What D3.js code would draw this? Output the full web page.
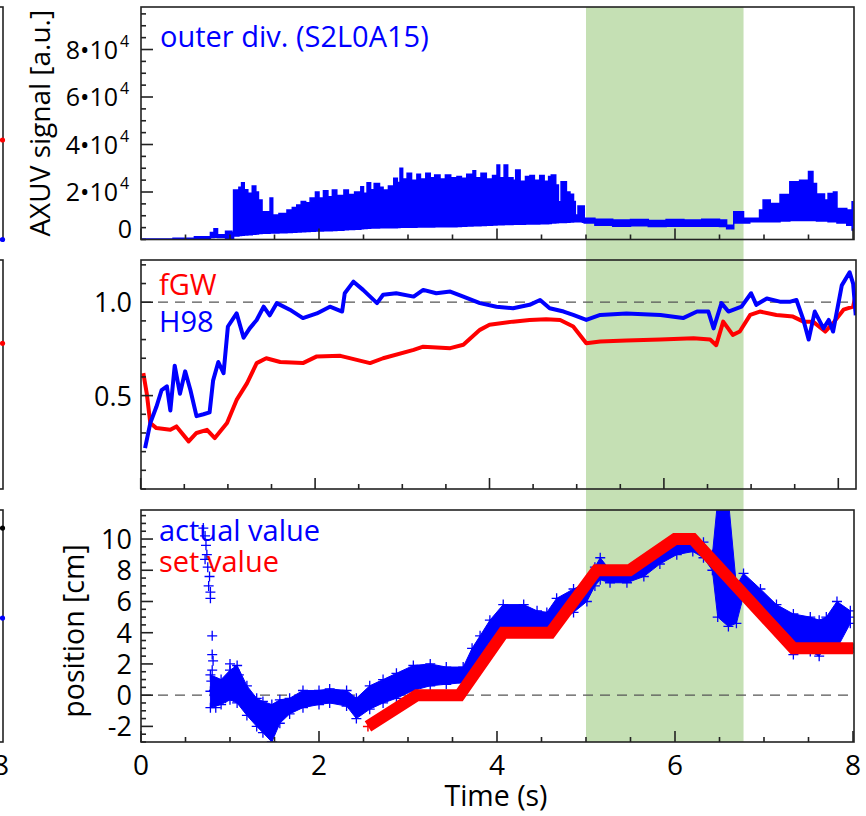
<!DOCTYPE html>
<html><head><meta charset="utf-8">
<script src="https://cdn.jsdelivr.net/npm/d3@7"></script>
<style>body{margin:0;background:#fff}svg{display:block}text{font-family:"Open Sans",sans-serif}</style>
</head><body>
<svg id="c" width="866" height="816"></svg>
<script>
// ---------- DATA ----------
// Panel 1: AXUV outer divertor signal (units of 1e4 a.u.): time, upper envelope, lower envelope
const axuvT  = [0.0,0.36,0.6,0.78,0.82,0.86,0.95,1.02,1.04,1.1,1.13,1.16,1.2,1.25,1.29,1.32,1.36,1.45,1.48,1.55,1.64,1.7,1.75,1.8,1.85,1.9,1.96,2.0,2.05,2.1,2.15,2.2,2.28,2.33,2.4,2.47,2.5,2.54,2.58,2.62,2.68,2.72,2.78,2.84,2.88,2.91,2.94,2.99,3.04,3.1,3.14,3.2,3.25,3.3,3.36,3.42,3.48,3.55,3.6,3.66,3.73,3.76,3.82,3.88,3.95,4.0,4.03,4.08,4.12,4.18,4.21,4.26,4.32,4.37,4.42,4.48,4.53,4.58,4.61,4.66,4.69,4.72,4.78,4.82,4.86,4.88,4.91,4.96,4.98,5.1,5.3,5.5,5.7,5.9,6.1,6.3,6.5,6.58,6.66,6.77,6.84,6.95,6.99,7.07,7.18,7.29,7.4,7.5,7.55,7.59,7.68,7.72,7.78,7.82,7.93,7.99,8.0];
const axuvHi = [0.02,0.05,0.12,0.3,0.45,0.2,0.35,0.3,2.08,2.2,2.39,2.1,1.95,2.25,2.0,1.66,1.17,1.75,1.03,1.1,1.24,1.35,1.45,1.6,1.55,1.75,2.0,1.75,2.05,1.8,2.08,1.85,2.08,1.9,2.0,2.22,1.95,2.39,2.1,2.36,2.2,2.08,2.25,2.58,2.4,3.0,2.55,2.79,2.5,2.75,2.55,2.79,2.6,2.72,2.55,2.72,2.6,2.65,2.58,2.75,2.9,2.6,2.79,2.55,2.7,3.14,2.6,3.14,2.6,2.5,2.93,2.45,2.65,2.7,2.5,2.7,2.45,2.65,2.72,2.3,1.59,2.43,2.0,1.91,1.6,1.03,1.41,1.41,0.9,0.85,0.82,0.84,0.8,0.84,0.82,0.85,0.82,0.6,1.17,0.9,0.9,1.24,1.66,1.52,1.9,2.43,2.5,2.86,2.36,1.92,1.66,1.94,2.0,1.31,1.24,1.59,1.59];
const axuvLo = [0.0,0.0,0.02,0.08,0.1,0.08,0.05,0.05,0.15,0.17,0.18,0.19,0.2,0.22,0.23,0.25,0.26,0.27,0.27,0.28,0.3,0.31,0.32,0.33,0.34,0.35,0.36,0.36,0.37,0.37,0.38,0.39,0.41,0.42,0.43,0.45,0.46,0.47,0.48,0.48,0.49,0.5,0.5,0.5,0.51,0.52,0.52,0.52,0.52,0.53,0.53,0.53,0.53,0.54,0.54,0.54,0.54,0.55,0.56,0.57,0.58,0.58,0.59,0.6,0.61,0.62,0.62,0.63,0.63,0.64,0.64,0.64,0.65,0.65,0.65,0.66,0.66,0.67,0.7,0.71,0.72,0.72,0.73,0.74,0.75,0.75,0.75,0.73,0.7,0.6,0.56,0.58,0.55,0.56,0.56,0.56,0.55,0.45,0.7,0.7,0.75,0.75,0.75,0.75,0.78,0.8,0.8,0.8,0.8,0.78,0.78,0.75,0.75,0.7,0.6,0.4,0.35];
const axuvTicks = [2,4,6,8];

// Panel 2: H98 confinement factor and Greenwald fraction
const h98T = [0.05,0.11,0.18,0.24,0.30,0.34,0.39,0.45,0.51,0.57,0.64,0.72,0.79,0.83,0.89,0.95,1.0,1.1,1.18,1.25,1.33,1.41,1.48,1.56,1.71,1.86,2.02,2.17,2.31,2.34,2.44,2.55,2.71,2.78,2.93,3.13,3.24,3.39,3.55,3.7,3.89,4.08,4.27,4.46,4.58,4.69,4.85,4.96,5.11,5.27,5.57,5.96,6.22,6.38,6.51,6.57,6.66,6.74,6.89,7.0,7.06,7.18,7.33,7.45,7.52,7.6,7.66,7.73,7.83,7.89,7.94,8.04,8.13,8.17,8.2];
const h98V = [0.219,0.353,0.44,0.53,0.55,0.42,0.66,0.51,0.63,0.53,0.39,0.40,0.41,0.58,0.68,0.62,0.87,0.94,0.81,0.86,0.905,0.976,0.93,0.995,0.96,0.915,0.94,0.976,0.95,1.048,1.11,1.066,0.995,1.04,1.048,1.03,1.066,1.048,1.057,1.03,0.995,0.976,0.968,0.986,1.012,0.968,0.95,0.932,0.905,0.932,0.94,0.932,0.915,0.95,0.95,0.86,0.995,0.95,0.976,1.048,0.986,1.02,1.003,1.003,1.012,0.905,0.8,0.95,0.86,0.905,0.843,1.09,1.16,1.10,0.93];
const fgwT = [0.03,0.07,0.11,0.18,0.34,0.41,0.55,0.64,0.76,0.85,0.99,1.1,1.22,1.33,1.44,1.6,1.86,2.02,2.29,2.63,2.78,3.13,3.24,3.55,3.7,3.89,4.0,4.27,4.46,4.65,4.81,4.96,5.11,5.27,5.57,5.96,6.34,6.53,6.6,6.68,6.79,6.87,6.99,7.1,7.29,7.48,7.6,7.71,7.85,7.94,8.06,8.17,8.2];
const fgwV = [0.62,0.51,0.353,0.326,0.317,0.335,0.255,0.30,0.317,0.273,0.353,0.477,0.567,0.674,0.70,0.68,0.674,0.71,0.713,0.674,0.70,0.745,0.762,0.754,0.772,0.852,0.879,0.896,0.905,0.909,0.905,0.87,0.78,0.79,0.795,0.80,0.807,0.80,0.77,0.896,0.825,0.843,0.932,0.95,0.932,0.923,0.896,0.896,0.843,0.888,0.96,0.976,1.04];
const p2Ticks = [0.5,1.0];

// Panel 3: strike-point position [cm]
const setT = [2.55,3.1,3.58,4.07,4.6,5.12,5.49,6.0,6.2,7.33,8.0];
const setV = [-2,0,0,4,4,8,8,10,10,3,3];
const actT  = [0.78,0.9,1.0,1.08,1.19,1.3,1.37,1.47,1.56,1.67,1.82,2.0,2.12,2.31,2.42,2.57,2.72,2.87,3.06,3.25,3.43,3.62,3.72,3.81,3.92,4.07,4.3,4.45,4.56,4.67,4.86,5.01,5.1,5.16,5.27,5.46,5.65,5.83,6.02,6.2,6.32,6.42,6.48,6.6,6.69,6.77,6.96,7.14,7.33,7.52,7.62,7.7,7.82,7.97];
const actLo = [-0.8,-0.6,-0.3,-0.5,-1.3,-2.0,-2.4,-3.0,-1.8,-1.2,-0.8,-0.6,-0.5,-0.7,-1.5,-0.9,-0.5,-0.2,0.3,0.6,0.7,0.8,1.6,2.5,3.4,4.2,4.3,4.0,4.1,4.6,5.3,6.0,7.0,7.4,7.2,7.2,7.6,8.4,9.0,9.2,8.8,8.0,5.0,4.4,4.6,6.4,5.6,4.2,2.6,2.8,2.5,3.2,3.0,4.6];
const actHi = [1.3,1.0,1.6,1.9,0.6,-0.2,-0.4,-0.6,-0.3,-0.2,0.3,0.3,0.4,0.3,-0.2,0.6,1.0,1.4,1.9,2.0,1.8,1.8,3.0,3.8,4.8,5.8,5.8,5.4,5.3,6.2,6.8,7.2,8.2,8.8,8.0,8.0,8.6,9.3,9.8,10.0,9.8,9.0,12.5,12.5,7.0,7.8,6.8,5.8,5.2,5.0,4.8,5.0,6.0,5.4];
const scatT = [0.70,0.72,0.73,0.74,0.72,0.75,0.77,0.76,0.78,0.78,0.80,0.80,0.81,0.80,0.82,0.84,0.79,1.0,1.05,1.1,0.95];
const scatV = [10.7,10.2,9.6,9.0,8.7,8.2,7.6,7.0,6.6,6.2,3.8,2.6,2.2,1.6,0.3,-0.8,0.9,2.0,1.6,1.3,-0.2];
const p3Ticks = [-2,0,2,4,6,8,10];

const timeTicks = [0,2,4,6,8];
const heating = [5.0, 6.77]; // shaded interval [s]

// Fragment of the neighbouring figure on the left (value at t = 8)
const nb1 = [{v:4.19,c:"#ff0000"},{v:0,c:"#0000ff"}];
const nb2 = [{v:0.78,c:"#ff0000"}];
const nb3 = [{v:10.7,c:"#000000"},{v:4.94,c:"#0000ff"}];

// ---------- DRAW ----------
const BLUE="#0000ff", RED="#ff0000", GREEN="#c5e0b4", FR="#222";
const svg = d3.select("#c");
const x13 = d3.scaleLinear().domain([0,8]).range([141,853]);
const x2  = d3.scaleLinear().domain([0,8]).range([140.7,838.3]);
const xn  = d3.scaleLinear().domain([0,8]).range([-711,1]);
const P1={top:7,bottom:239.5,left:141,right:854};
const P2={top:260,bottom:489,left:141,right:856};
const P3={top:510,bottom:742,left:141,right:854};
const y1=d3.scaleLinear().domain([0,9.79]).range([P1.bottom,P1.top]);
const y2=d3.scaleLinear().domain([0,1.226]).range([P2.bottom,P2.top]);
const y3=d3.scaleLinear().domain([-3,11.86]).range([P3.bottom,P3.top]);

// shaded band
svg.append("rect").attr("x",x13(heating[0])).attr("width",x13(heating[1])-x13(heating[0]))
  .attr("y",P1.top).attr("height",P3.bottom-P1.top).attr("fill",GREEN);

function clip(id,P){
  svg.append("clipPath").attr("id",id).append("rect")
    .attr("x",P.left).attr("y",P.top).attr("width",P.right-P.left).attr("height",P.bottom-P.top);
}
clip("c1",P1);clip("c2",P2);clip("c3",P3);

function dashed(P,y,v){
  svg.append("line").attr("x1",P.left).attr("x2",P.right).attr("y1",y(v)).attr("y2",y(v))
    .attr("stroke","#555").attr("stroke-width",1.3).attr("stroke-dasharray","10,7");
}
function frame(P){
  svg.append("rect").attr("x",P.left).attr("y",P.top).attr("width",P.right-P.left).attr("height",P.bottom-P.top)
    .attr("fill","none").attr("stroke",FR).attr("stroke-width",1.6);
}
function xTicks(P,x,maxT){
  const g=svg.append("g");
  d3.range(0,maxT+0.001,0.5).forEach(t=>{
    const major=Math.abs(t%2)<1e-6;
    g.append("line").attr("x1",x(t)).attr("x2",x(t)).attr("y1",P.bottom).attr("y2",P.bottom-(major?11:5))
      .attr("stroke",FR).attr("stroke-width",1.6);
  });
}
function yTicks(P,y,minorStep,majors){
  const g=svg.append("g");
  const [d0,d1]=y.domain();
  const start=Math.ceil(d0/minorStep)*minorStep;
  for(let v=start; v<=d1+1e-9; v+=minorStep){
    const vv=Math.round(v/minorStep)*minorStep;
    const major=majors.some(m=>Math.abs(m-vv)<1e-6);
    g.append("line").attr("x1",P.left).attr("x2",P.left+(major?12:5)).attr("y1",y(vv)).attr("y2",y(vv))
      .attr("stroke",FR).attr("stroke-width",1.6);
  }
}

// ---- Panel 1
const p1=svg.append("g").attr("clip-path","url(#c1)");
const a1=axuvT.map((t,i)=>({t,hi:axuvHi[i],lo:axuvLo[i]}));
p1.append("path").datum(a1)
  .attr("d",d3.area().x(d=>x13(d.t)).y0(d=>y1(d.lo)).y1(d=>y1(d.hi)).curve(d3.curveStepAfter))
  .attr("fill",BLUE).attr("stroke",BLUE).attr("stroke-width",1.5);
frame(P1); xTicks(P1,x13,8); yTicks(P1,y1,0.5,axuvTicks);
axuvTicks.forEach(v=>{
  svg.append("text").attr("x",118).attr("y",y1(v)+9).attr("text-anchor","end")
    .attr("font-size",25).attr("fill","#000").text(v+"\u202210");
  svg.append("text").attr("x",120).attr("y",y1(v)-3).attr("font-size",16).text("4");
});
svg.append("text").attr("x",132).attr("y",y1(0)-2).attr("text-anchor","end").attr("font-size",25).text("0");
svg.append("text").attr("transform","translate(50,"+((P1.top+P1.bottom)/2)+") rotate(-90)")
  .attr("text-anchor","middle").attr("font-size",28).text("AXUV signal [a.u.]");
svg.append("text").attr("x",160).attr("y",47).attr("font-size",29).attr("fill",BLUE).text("outer div. (S2L0A15)");

// ---- Panel 2
dashed(P2,y2,1.0);
const p2=svg.append("g").attr("clip-path","url(#c2)");
const ln2=d3.line().x(d=>x2(d[0])).y(d=>y2(d[1]));
p2.append("path").datum(fgwT.map((t,i)=>[t,fgwV[i]])).attr("d",ln2)
  .attr("fill","none").attr("stroke",RED).attr("stroke-width",4).attr("stroke-linejoin","round");
p2.append("path").datum(h98T.map((t,i)=>[t,h98V[i]])).attr("d",ln2)
  .attr("fill","none").attr("stroke",BLUE).attr("stroke-width",4).attr("stroke-linejoin","round");
frame(P2); xTicks(P2,x2,8); yTicks(P2,y2,0.1,p2Ticks);
p2Ticks.forEach(v=>{
  svg.append("text").attr("x",132).attr("y",y2(v)+10).attr("text-anchor","end").attr("font-size",27).text(v.toFixed(1));
});
svg.append("text").attr("x",159).attr("y",295).attr("font-size",29).attr("fill",RED).text("fGW");
svg.append("text").attr("x",159).attr("y",332).attr("font-size",29).attr("fill",BLUE).text("H98");

// ---- Panel 3
dashed(P3,y3,0);
const p3=svg.append("g").attr("clip-path","url(#c3)");
const act=actT.map((t,i)=>({t,lo:actLo[i],hi:actHi[i]}));
p3.append("path").datum(act)
  .attr("d",d3.area().x(d=>x13(d.t)).y0(d=>y3(d.lo)).y1(d=>y3(d.hi)))
  .attr("fill",BLUE).attr("stroke",BLUE).attr("stroke-width",1);
const plus="M-5,0H5M0,-5V5";
const pts=[];
act.forEach(d=>{pts.push([d.t,d.lo]);pts.push([d.t,d.hi]);pts.push([d.t,(d.lo+d.hi)/2]);});
scatT.forEach((t,i)=>pts.push([t,scatV[i]]));
p3.selectAll(".pa").data(pts).enter().append("path")
  .attr("transform",d=>"translate("+x13(d[0])+","+y3(d[1])+")").attr("d",plus)
  .attr("stroke",BLUE).attr("stroke-width",1.3).attr("fill","none");
p3.selectAll(".ps").data(setT.map((t,i)=>[t,setV[i]])).enter().append("path")
  .attr("transform",d=>"translate("+x13(d[0])+","+y3(d[1])+")").attr("d",plus)
  .attr("stroke",RED).attr("stroke-width",1.5).attr("fill","none");
p3.append("path").datum(setT.map((t,i)=>[t,setV[i]]))
  .attr("d",d3.line().x(d=>x13(d[0])).y(d=>y3(d[1])))
  .attr("fill","none").attr("stroke",RED).attr("stroke-width",12).attr("stroke-linejoin","miter");
frame(P3); xTicks(P3,x13,8); yTicks(P3,y3,0.5,p3Ticks);
p3Ticks.forEach(v=>{
  svg.append("text").attr("x",132).attr("y",y3(v)+10).attr("text-anchor","end").attr("font-size",27).text(v);
});
timeTicks.forEach(t=>{
  svg.append("text").attr("x",x13(t)).attr("y",775).attr("text-anchor","middle").attr("font-size",28).text(t);
});
svg.append("text").attr("x",496).attr("y",806).attr("text-anchor","middle").attr("font-size",28.5).text("Time (s)");
svg.append("text").attr("transform","translate(84,"+((P3.top+P3.bottom)/2+5)+") rotate(-90)")
  .attr("text-anchor","middle").attr("font-size",28.5).text("position [cm]");
svg.append("text").attr("x",159).attr("y",541).attr("font-size",29).attr("fill",BLUE).text("actual value");
svg.append("text").attr("x",159).attr("y",572).attr("font-size",29).attr("fill",RED).text("set value");

// ---- neighbouring figure fragment (left edge)
[[P1,y1,nb1],[P2,y2,nb2],[P3,y3,nb3]].forEach(([P,y,nb])=>{
  svg.append("rect").attr("x",-400).attr("y",P.top).attr("width",403).attr("height",P.bottom-P.top)
    .attr("fill","none").attr("stroke",FR).attr("stroke-width",1.6);
  nb.forEach(d=>svg.append("circle").attr("cx",xn(8)+1.5).attr("cy",y(d.v)).attr("r",2.6).attr("fill",d.c));
});
svg.append("text").attr("x",xn(8)).attr("y",775).attr("text-anchor","middle").attr("font-size",28).text("8");
</script>
</body></html>
